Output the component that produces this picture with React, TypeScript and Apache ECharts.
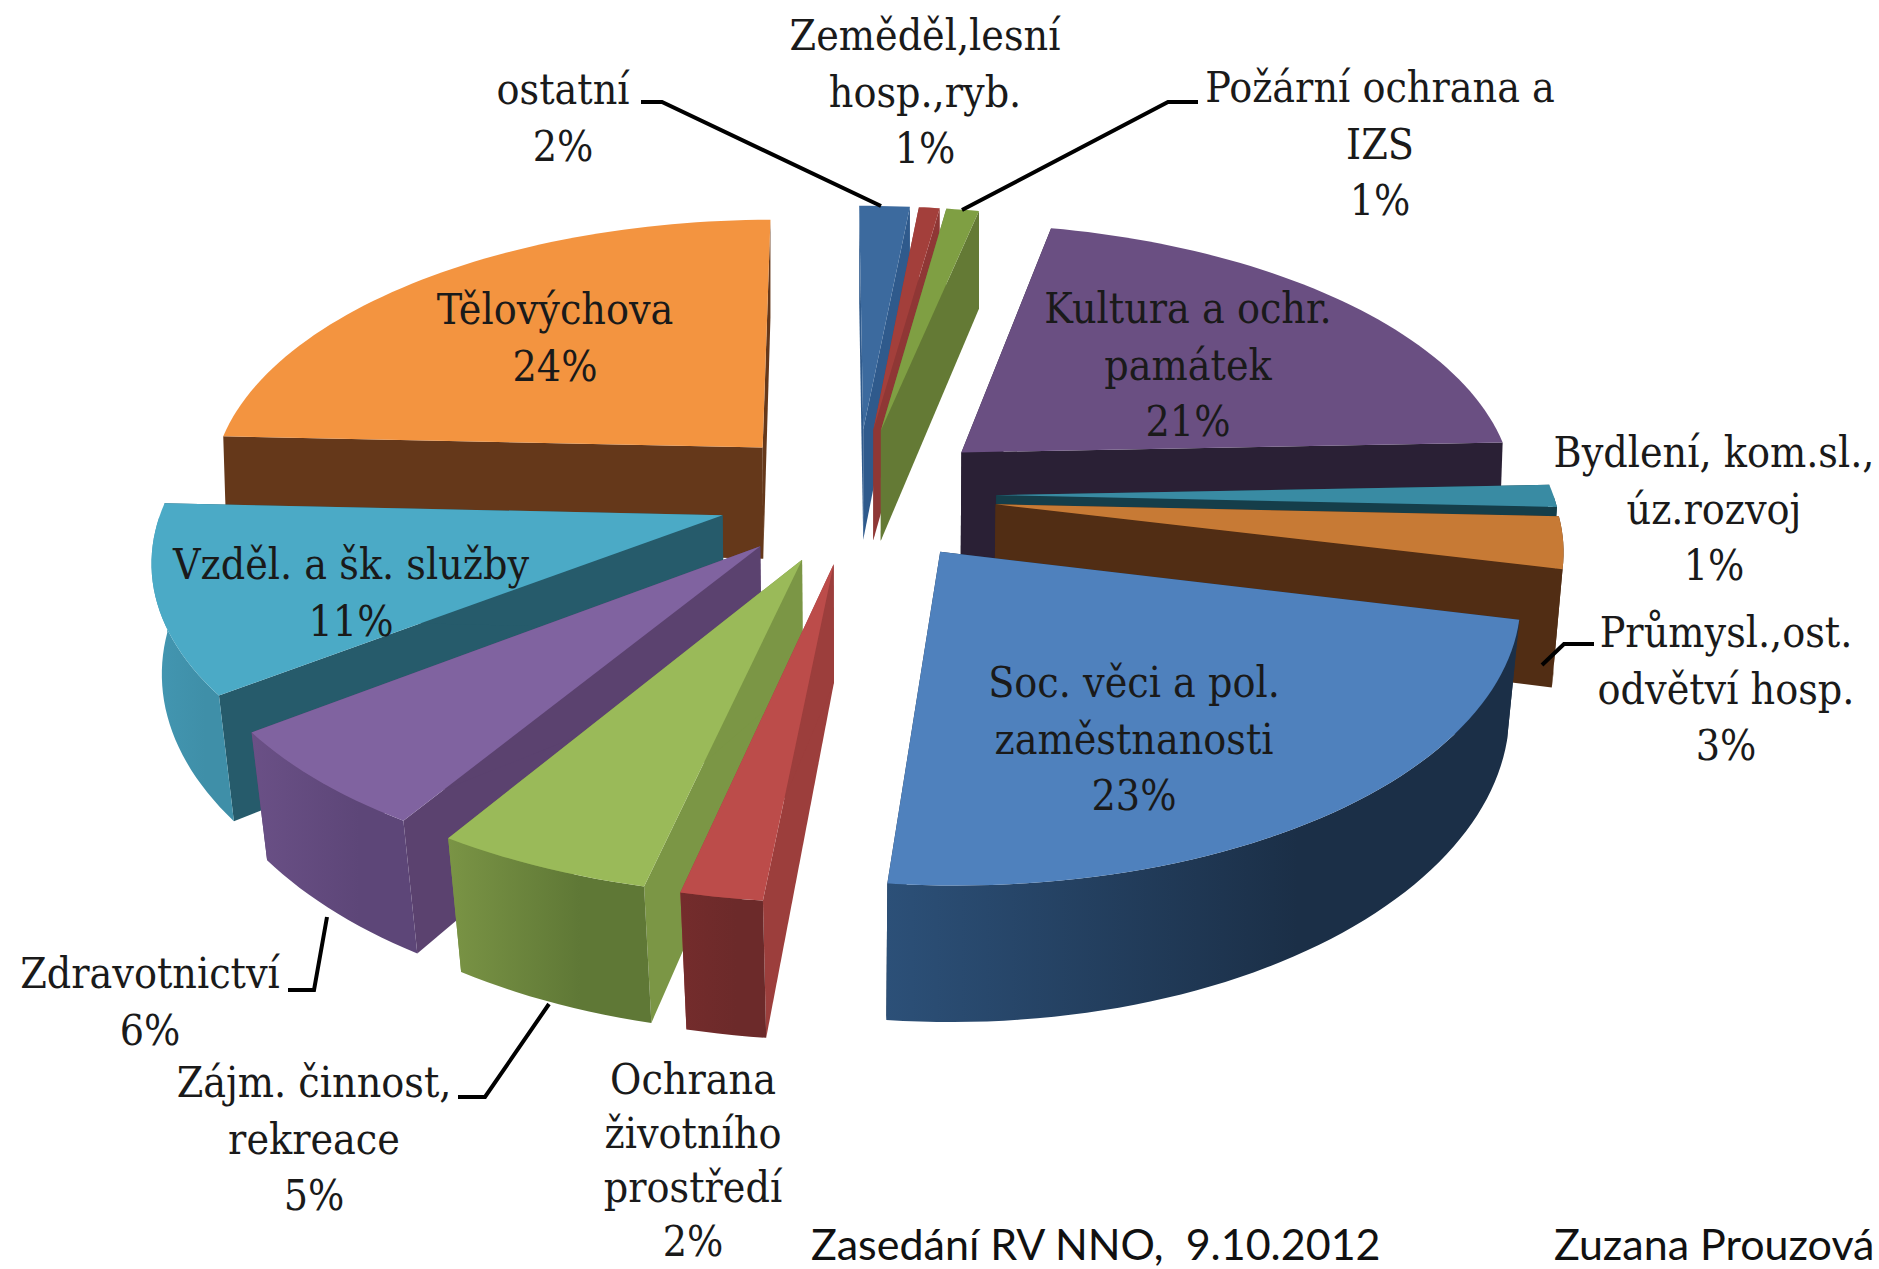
import React, { useEffect, useRef } from "react";
import * as echarts from "echarts";

const names = [
  "ostatní",
  "Zeměděl,lesní\nhosp.,ryb.",
  "Požární ochrana a\nIZS",
  "Kultura a ochr.\npamátek",
  "Bydlení, kom.sl.,\núz.rozvoj",
  "Průmysl.,ost.\nodvětví hosp.",
  "Soc. věci a pol.\nzaměstnanosti",
  "Ochrana\nživotního\nprostředí",
  "Zájm. činnost,\nrekreace",
  "Zdravotnictví",
  "Vzděl. a šk. služby",
  "Tělovýchova",
];
const values = [1.7, 0.7, 1.1, 21.0, 1.3, 3.0, 22.9, 2.0, 5.3, 5.9, 10.9, 24.2];
const topColors = ["#3c6a9e", "#a33f3b", "#7f9f43", "#6a4f82", "#398ba3", "#c77a35", "#4f81bd", "#bc4c4a", "#9aba59", "#8063a0", "#4baac6", "#f39440"];
const edgeColors = ["#2f5a8c", "#8f3735", "#647a35", "#2a2035", "#153e4a", "#512d14", "#1d3149", "#9c3e3c", "#7b9645", "#5b426f", "#265b6b", "#65381a"];
const rimColors = [
  ["#365f8f", "#365f8f"], ["#8f3735", "#8f3735"], ["#647a35", "#647a35"], ["#2a2035", "#2a2035"],
  ["#153e4a", "#153e4a"], ["#512d14", "#512d14"], ["#2c5078", "#1b2f47"], ["#742c2c", "#6c2a2a"],
  ["#7a9445", "#5f7836"], ["#6a5086", "#5d4678"], ["#4397b2", "#3f8fa8"], ["#65381a", "#65381a"],
];
const labelPos = [[563, 118], [925, 92], [1380, 144], [1188, 365], [1714, 509], [1726, 689], [1134, 739], [693, 1160], [314, 1139], [150, 1002], [351, 593], [555, 338]];
const labelLine = [56.5, 56.5, 56.5, 56.5, 56.5, 56.5, 56.5, 54, 56.5, 56.5, 56.5, 56.5];
const leaders = [
  [[641, 102], [662, 102], [881, 206]],
  [[1198, 102], [1168, 102], [962, 210]],
  [[1594, 644], [1564, 644], [1542, 665]],
  [[288, 990], [314, 990], [327, 917]],
  [[458, 1097], [485, 1097], [549, 1004]],
];
const footer = [
  { text: "Zasedání RV NNO,  9.10.2012", x: 811 },
  { text: "Zuzana Prouzová", x: 1554 },
];

const CX = 857, CY = 495, RX = 557, RY = 271, K = 0.137, DEPTH = 114, EXPLODE = 0.25, START = -0.4;
const total = values.reduce((a, b) => a + b, 0);
const starts: number[] = [];
values.reduce((acc, v, i) => { starts[i] = acc; return acc + (v / total) * 360; }, START);
const rad = (d: number) => (d * Math.PI) / 180;
const project = (u: number, v: number, drop: number) => {
  const w = 1 / (1 - K * v);
  const taper = Math.max(0, 0.01 + 0.02 * v);
  return [CX + RX * u * w * (1 - (taper * drop) / DEPTH), CY + (RY * v + drop) * w];
};

function sliceItem(params: any, api: any) {
  const i = api.value(0);
  const a = starts[i];
  const b = a + (api.value(1) / total) * 360;
  const m = rad((a + b) / 2);
  const au = EXPLODE * Math.sin(m), av = -EXPLODE * Math.cos(m);
  const point = (deg: number, drop: number) => project(au + Math.sin(rad(deg)), av - Math.cos(rad(deg)), drop);
  const arc: number[] = [];
  const n = Math.max(4, Math.ceil((b - a) / 1.5));
  for (let s = 0; s <= n; s++) arc.push(a + ((b - a) * s) / n);
  const apexTop = project(au, av, 0), apexBot = project(au, av, DEPTH);
  const radial = (deg: number) => ({
    type: "polygon",
    shape: { points: [apexTop, point(deg, 0), point(deg, DEPTH), apexBot] },
    style: { fill: edgeColors[i] },
  });
  const children: any[] = [radial(a), radial(b)];
  const front = arc.filter((d) => d >= 90 && d <= 270);
  if (front.length > 1) {
    children.push({
      type: "polygon",
      shape: { points: [...front.map((d) => point(d, 0)), ...front.slice().reverse().map((d) => point(d, DEPTH))] },
      style: {
        fill: new echarts.graphic.LinearGradient(0, 0, 1, 0, [
          { offset: 0, color: rimColors[i][0] },
          { offset: 0.65, color: rimColors[i][1] },
          { offset: 1, color: rimColors[i][1] },
        ]),
      },
    });
  }
  children.push({
    type: "polygon",
    shape: { points: [apexTop, ...arc.map((d) => point(d, 0))] },
    style: { fill: topColors[i] },
  });
  return { type: "group", children };
}

export default function App() {
  const ref = useRef<HTMLDivElement>(null);
  useEffect(() => {
    const chart = echarts.init(ref.current!, undefined, { renderer: "svg" });
    const mid = (i: number) => starts[i] + (values[i] / total) * 180;
    const order = values.map((_, i) => i).sort((p, q) => Math.cos(rad(mid(q))) - Math.cos(rad(mid(p))));
    chart.setOption({
      animation: false,
      backgroundColor: "#ffffff",
      series: [{
        type: "custom",
        coordinateSystem: "none",
        renderItem: sliceItem,
        silent: true,
        data: order.map((i) => [i, values[i]]),
      }],
      graphic: [
        ...leaders.map((pts) => ({
          type: "polyline",
          shape: { points: pts },
          style: { stroke: "#000000", lineWidth: 4, fill: "none" },
          z: 10,
        })),
        ...names.map((name, i) => ({
          type: "text",
          x: labelPos[i][0],
          y: labelPos[i][1],
          z: 11,
          style: {
            text: `${name}\n${Math.round(values[i])}%`,
            align: "center",
            verticalAlign: "middle",
            fontFamily: "'DejaVu Serif Condensed', 'DejaVu Serif'",
            fontSize: 42.5,
            lineHeight: labelLine[i],
            fill: "#1a1a1a",
          },
        })),
        ...footer.map((f) => ({
          type: "text",
          x: f.x,
          y: 1243,
          z: 11,
          style: { text: f.text, align: "left", verticalAlign: "middle", fontFamily: "Lato", fontSize: 43, lineHeight: 44, fill: "#111111" },
        })),
      ],
    });
    return () => chart.dispose();
  }, []);
  return <div ref={ref} style={{ position: "fixed", left: 0, top: 0, width: 1879, height: 1269 }} />;
}
